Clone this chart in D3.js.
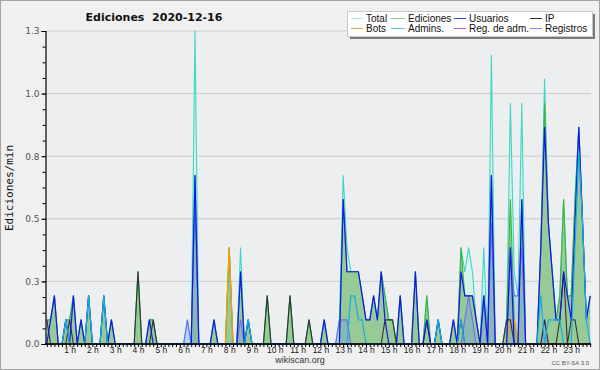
<!DOCTYPE html>
<html>
<head>
<meta charset="utf-8">
<script src="https://cdnjs.cloudflare.com/ajax/libs/d3/7.8.5/d3.min.js"></script>
<style>
  body { margin: 0; background: #fff; }
  svg { display: block; }
</style>
</head>
<body>
<div id="chart"></div>
<script>
var svgWidth = 600;
var svgHeight = 370;

// one value every 10 minutes (144 per day), edits per minute
var total = [
  .1,.1,.2,0,0,.1,.1,.2,0,.1,0,.2,
  0,0,0,.2,0,.1,0,0,0,0,0,0,
  .3,0,0,.1,.1,0,0,0,0,0,0,0,
  0,.1,0,1.3,0,0,0,0,.1,0,0,0,
  .4,0,0,.4,0,.1,0,0,0,0,.2,0,
  0,0,0,0,.2,0,0,0,0,.1,0,0,
  0,.1,0,0,0,.1,.7,.4,.3,.3,.3,.2,
  .1,.1,.2,.1,.3,.2,.1,.1,0,.2,0,0,
  0,.3,0,0,.2,0,0,.1,0,0,0,.1,
  0,.4,.3,.4,.3,.1,0,.4,0,1.2,0,0,
  0,.1,1.0,.3,.2,1.0,0,0,0,0,.4,1.1,
  .5,.3,.1,.2,.6,.2,.2,.6,.9,.5,.1,.2
];
var edits = [
  .1,.1,.2,0,0,.1,.1,.2,0,.1,0,.2,
  0,0,0,.2,0,.1,0,0,0,0,0,0,
  .3,0,0,.1,.1,0,0,0,0,0,0,0,
  0,0,0,.7,0,0,0,0,.1,0,0,0,
  .4,0,0,.3,0,.1,0,0,0,0,.2,0,
  0,0,0,0,.2,0,0,0,0,.1,0,0,
  0,.1,0,0,0,0,.6,.3,.3,.3,.3,.2,
  .1,.1,.2,.1,.3,.2,.1,.1,0,.2,0,0,
  0,.3,0,0,.2,0,0,.1,0,0,0,.1,
  0,.4,.2,.2,.2,.1,0,.2,0,.7,0,0,
  0,.1,.6,.1,0,.6,0,0,0,0,.4,1.0,
  .5,.3,.1,.2,.6,.2,.2,.6,.9,.5,.1,.2
];
var users = [
  0,.1,.2,0,0,.1,0,.2,0,.1,0,.2,
  0,0,0,.2,0,.1,0,0,0,0,0,0,
  0,0,0,.1,0,0,0,0,0,0,0,0,
  0,0,0,.7,0,0,0,0,.1,0,0,0,
  0,0,0,.3,0,.1,0,0,0,0,0,0,
  0,0,0,0,0,0,0,0,0,0,0,0,
  0,.1,0,0,0,0,.6,.3,.3,.3,.3,.2,
  .1,.1,.2,.1,.3,.1,0,0,0,.2,0,0,
  0,.3,0,0,.1,0,0,.1,0,0,0,.1,
  0,.3,.2,.2,.2,.1,0,.2,0,.7,0,0,
  0,0,.4,0,0,.6,0,0,0,0,.4,.9,
  .5,.3,.1,.1,.3,.2,.1,.5,.9,.5,.1,.2
];
var ip = [
  .1,0,0,0,0,0,.1,0,0,0,0,0,
  0,0,0,0,0,0,0,0,0,0,0,0,
  .3,0,0,0,.1,0,0,0,0,0,0,0,
  0,0,0,0,0,0,0,0,0,0,0,0,
  0,0,0,0,0,0,0,0,0,0,.2,0,
  0,0,0,0,.2,0,0,0,0,.1,0,0,
  0,0,0,0,0,0,0,0,0,0,0,0,
  0,0,0,0,0,.1,.1,.1,0,0,0,0,
  0,0,0,0,.1,0,0,0,0,0,0,0,
  0,.1,0,0,0,0,0,0,0,0,0,0,
  0,.1,.1,0,0,0,0,0,0,0,0,.1,
  0,0,0,.1,.3,0,.1,.1,0,0,0,0
];
var bots = [
  0,0,0,0,0,0,0,0,0,0,0,0,
  0,0,0,0,0,0,0,0,0,0,0,0,
  0,0,0,0,0,0,0,0,0,0,0,0,
  0,0,0,0,0,0,0,0,0,0,0,0,
  .4,0,0,0,0,0,0,0,0,0,0,0,
  0,0,0,0,0,0,0,0,0,0,0,0,
  0,0,0,0,0,0,0,0,0,0,0,0,
  0,0,0,0,0,0,0,0,0,0,0,0,
  0,0,0,0,0,0,0,0,0,0,0,0,
  0,0,0,0,0,0,0,0,0,0,0,0,
  0,0,.1,.1,0,0,0,0,0,0,0,0,
  0,0,0,0,0,0,0,0,0,0,0,0
];
var admins = [
  0,0,0,0,0,.1,0,0,0,0,0,.2,
  0,0,0,.2,0,0,0,0,0,0,0,0,
  0,0,0,0,0,0,0,0,0,0,0,0,
  0,0,0,0,0,0,0,0,0,0,0,0,
  0,0,0,0,0,.1,0,0,0,0,0,0,
  0,0,0,0,0,0,0,0,0,0,0,0,
  0,0,0,0,0,0,0,0,.2,.2,.1,.1,
  0,0,0,0,0,0,0,0,0,0,0,0,
  0,0,0,0,0,0,0,.1,0,0,0,0,
  0,.1,0,0,0,0,0,0,0,0,0,0,
  0,0,0,0,0,0,0,0,0,0,.2,0,
  .1,.1,.1,.1,0,0,0,.4,.8,.5,.1,0
];
var adminLogs = [
  0,0,0,0,0,0,0,0,0,0,0,0,
  0,0,0,0,0,0,0,0,0,0,0,0,
  0,0,0,0,0,0,0,0,0,0,0,0,
  0,0,0,0,0,0,0,0,0,0,0,0,
  0,0,0,0,0,0,0,0,0,0,0,0,
  0,0,0,0,0,0,0,0,0,0,0,0,
  0,0,0,0,0,0,0,0,0,0,0,0,
  0,0,0,0,0,0,0,0,0,0,0,0,
  0,0,0,0,0,0,0,0,0,0,0,0,
  0,0,0,0,0,0,0,0,0,0,0,0,
  0,0,0,0,0,0,0,0,0,0,0,0,
  0,0,0,0,0,0,0,0,0,0,0,0
];
var logs = [
  0,0,0,0,0,0,0,0,0,0,0,0,
  0,0,0,0,0,0,0,0,0,0,0,0,
  0,0,0,0,0,0,0,0,0,0,0,0,
  0,.1,0,.6,0,0,0,0,0,0,0,0,
  0,0,0,.1,0,0,0,0,0,0,0,0,
  0,0,0,0,0,0,0,0,0,0,0,0,
  0,0,0,0,0,.1,.1,.1,0,0,0,0,
  0,0,0,0,0,0,0,0,0,0,0,0,
  0,0,0,0,0,0,0,0,0,0,0,0,
  0,0,.1,.2,.1,0,0,.2,0,.5,0,0,
  0,0,.4,.2,.2,.4,0,0,0,0,0,.1,
  0,0,0,0,0,0,0,0,0,0,0,0
];

var hourTicks = [1,2,3,4,5,6,7,8,9,10,11,12,13,14,15,16,17,18,19,20,21,22,23];
var yMax = 1.3;
var yMajor = [0, 0.26, 0.52, 0.78, 1.04, 1.3];

var legendItems = [
  {name: "Total", color: "#a8e6e0"},
  {name: "Ediciones", color: "#88cc88"},
  {name: "Usuarios", color: "#3a3ae0"},
  {name: "IP", color: "#333333"},
  {name: "Bots", color: "#f0a040"},
  {name: "Admins.", color: "#50c8e0"},
  {name: "Reg. de adm.", color: "#c050e8"},
  {name: "Registros", color: "#7f7fee"}
];

var svg = d3.select("#chart")
  .append("svg")
  .attr("width", svgWidth)
  .attr("height", svgHeight);

// page background + frame
svg.append("rect")
  .attr("x", 0.5).attr("y", 0.5)
  .attr("width", svgWidth - 1).attr("height", svgHeight - 1)
  .attr("fill", "#f0f0f0")
  .attr("stroke", "#a4a4a4");

var x = d3.scaleLinear().domain([0, 143]).range([46.8, 590.2]);
var y = d3.scaleLinear().domain([0, yMax]).range([344, 31]);

// plot background
svg.append("rect")
  .attr("x", 46).attr("y", y(yMax))
  .attr("width", 545).attr("height", y(0) - y(yMax))
  .attr("fill", "#eceef0");

// grid
svg.append("g")
  .selectAll("line")
  .data(yMajor.slice(1))
  .enter()
  .append("line")
  .attr("x1", 46).attr("x2", 591)
  .attr("y1", d => y(d)).attr("y2", d => y(d))
  .attr("stroke", "#cccccc")
  .attr("stroke-width", 1);

var area = d3.area()
  .x((d, i) => x(i))
  .y0(y(0))
  .y1(d => y(d));

var line = d3.line()
  .x((d, i) => x(i))
  .y(d => y(d));

var plot = svg.append("g");

plot.append("path").datum(total).attr("d", area).attr("fill", "#d6f2ea");
plot.append("path").datum(edits).attr("d", area).attr("fill", "#98ca98");
plot.append("path").datum(logs).attr("d", area).attr("fill", "rgba(100,140,255,0.28)");

function drawLine(data, color, w) {
  plot.append("path")
    .datum(data)
    .attr("d", line)
    .attr("fill", "none")
    .attr("stroke", color)
    .attr("stroke-width", w)
    .attr("stroke-linejoin", "round");
}

drawLine(total, "#3fd6c6", 1.1);
drawLine(edits, "#3cb43c", 1.1);
drawLine(logs, "#6d6df0", 1.1);
drawLine(adminLogs, "#c050e8", 1.1);
drawLine(bots, "#ff9900", 1.2);
drawLine(ip, "#333333", 1.1);
drawLine(users, "#1414ee", 1.2);
drawLine(admins, "#18aee0", 1.2);

// y axis
svg.append("g")
  .attr("transform", "translate(45.5,0)")
  .call(d3.axisLeft(y).tickValues(d3.range(0, 21).map(k => k * 0.065)).tickSize(3).tickFormat(""))
  .call(g => g.select(".domain").remove())
  .call(g => g.selectAll("line").attr("stroke", "#000"));

svg.append("g")
  .attr("transform", "translate(45.5,0)")
  .call(d3.axisLeft(y).tickValues(yMajor).tickSize(4).tickPadding(2).tickFormat(d3.format(".1f")))
  .call(g => g.select(".domain").attr("stroke", "#000").attr("stroke-width", 1.2))
  .call(g => g.selectAll("line").attr("stroke", "#000"))
  .call(g => g.selectAll("text")
    .attr("fill", "#555")
    .style("font-family", "'DejaVu Sans', sans-serif")
    .style("font-size", "9px"));

// x axis
svg.append("g")
  .attr("transform", "translate(0,344)")
  .call(d3.axisBottom(x).tickValues(d3.range(0, 144)).tickSize(3).tickFormat(""))
  .call(g => g.select(".domain").attr("stroke", "#000").attr("stroke-width", 1.6).attr("d", "M45,0H591"))
  .call(g => g.selectAll("line").attr("stroke", "#000"));

svg.append("g")
  .attr("transform", "translate(0,344)")
  .call(d3.axisBottom(x).tickValues(hourTicks.map(h => h * 6)).tickSize(0).tickPadding(3)
    .tickFormat(d => (d / 6) + " h"))
  .call(g => g.select(".domain").remove())
  .call(g => g.selectAll("text")
    .attr("fill", "#222")
    .style("font-family", "'Liberation Sans', sans-serif")
    .style("font-size", "8.5px"));

// title
svg.append("text")
  .attr("x", 154).attr("y", 21)
  .attr("text-anchor", "middle")
  .style("font-family", "'DejaVu Sans', sans-serif")
  .style("font-size", "11px")
  .style("font-weight", "bold")
  .attr("fill", "#111")
  .attr("xml:space", "preserve")
  .text("Ediciones  2020-12-16");

// y label
svg.append("text")
  .attr("transform", "translate(13,188) rotate(-90)")
  .attr("text-anchor", "middle")
  .style("font-family", "'DejaVu Sans Mono', monospace")
  .style("font-size", "11px")
  .attr("fill", "#111")
  .text("Ediciones/min");

// footer
svg.append("text")
  .attr("x", 300).attr("y", 363)
  .attr("text-anchor", "middle")
  .style("font-family", "'Liberation Sans', sans-serif")
  .style("font-size", "9px")
  .attr("fill", "#333")
  .text("wikiscan.org");

svg.append("text")
  .attr("x", 589).attr("y", 365)
  .attr("text-anchor", "end")
  .style("font-family", "'Liberation Sans', sans-serif")
  .style("font-size", "6px")
  .attr("fill", "#555")
  .text("CC BY-SA 3.0");

// legend
var lg = svg.append("g");
lg.append("rect")
  .attr("x", 350).attr("y", 14).attr("width", 245).attr("height", 25)
  .attr("fill", "#7a7a7a");
lg.append("rect")
  .attr("x", 347.5).attr("y", 11.5).attr("width", 245).attr("height", 25)
  .attr("fill", "#fff").attr("stroke", "#c8c8c8");

var colX = [351, 391, 454, 530];
var textX = [366, 408, 469, 545];
var rowY = [22, 32];

var items = lg.selectAll("g.item")
  .data(legendItems)
  .enter()
  .append("g")
  .attr("class", "item");

items.append("line")
  .attr("x1", (d, i) => colX[i % 4])
  .attr("x2", (d, i) => textX[i % 4] - 3)
  .attr("y1", (d, i) => rowY[Math.floor(i / 4)] - 3.5)
  .attr("y2", (d, i) => rowY[Math.floor(i / 4)] - 3.5)
  .attr("stroke", d => d.color)
  .attr("stroke-width", 1);

items.append("text")
  .attr("x", (d, i) => textX[i % 4])
  .attr("y", (d, i) => rowY[Math.floor(i / 4)])
  .style("font-family", "'Liberation Sans', sans-serif")
  .style("font-size", "10px")
  .attr("fill", "#111")
  .text(d => d.name);
</script>
</body>
</html>
